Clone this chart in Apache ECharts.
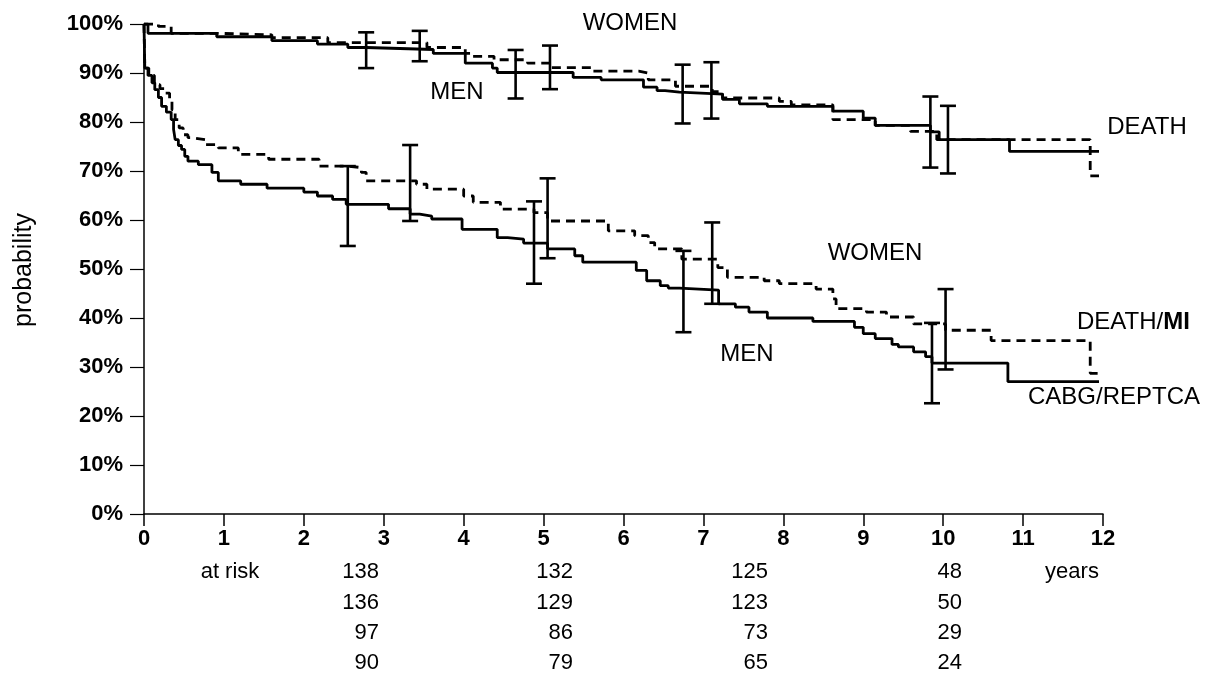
<!DOCTYPE html>
<html>
<head>
<meta charset="utf-8">
<script src="https://cdn.jsdelivr.net/npm/echarts@6/dist/echarts.min.js"></script>
<style>
html,body{margin:0;padding:0;background:#fff;}
#chart{width:1215px;height:675px;}
</style>
</head>
<body>
<div id="chart"></div>
<script>
// ---- data (years, probability %) ----
const deathMenT = [0, 0.05, 0.91, 1.6, 2.17, 2.55, 2.78, 3.62, 4.02, 4.36, 4.42, 5.37, 5.72, 6.25, 6.42, 6.52, 6.70, 7.24, 7.45, 7.80, 8.62, 9.0, 9.15, 9.84, 9.95, 10.83, 11.95];
const deathMenP = [100, 98.1, 97.4, 96.6, 95.9, 95.2, 94.8, 94.0, 92.0, 91.0, 90.1, 89.1, 88.6, 87.1, 86.4, 86.1, 85.7, 84.6, 83.7, 83.2, 82.2, 80.8, 79.3, 78.0, 76.4, 74.0, 74.0];

const deathWomenT = [0, 0.18, 0.34, 0.91, 1.6, 2.3, 3.54, 4.02, 4.08, 4.38, 4.80, 5.09, 5.6, 6.19, 6.31, 6.65, 7.11, 7.24, 7.95, 8.1, 8.62, 9.15, 9.59, 9.92, 11.84, 11.95];
const deathWomenP = [100, 99.5, 98.1, 97.8, 97.2, 96.2, 95.2, 94.0, 93.4, 92.7, 92.0, 91.1, 90.4, 90.0, 88.6, 87.3, 86.2, 84.9, 84.2, 83.5, 80.5, 79.3, 78.1, 76.4, 69.0, 69.0];

const eventMenT = [0, 0.01, 0.05, 0.1, 0.135, 0.18, 0.22, 0.28, 0.34, 0.37, 0.39, 0.43, 0.47, 0.51, 0.55, 0.68, 0.85, 0.93, 1.21, 1.54, 2.0, 2.17, 2.36, 2.53, 3.06, 3.33, 3.45, 3.60, 3.98, 4.42, 4.55, 4.75, 5.05, 5.39, 5.49, 6.16, 6.29, 6.46, 6.56, 6.70, 7.19, 7.40, 7.57, 7.80, 8.37, 8.89, 9.0, 9.15, 9.36, 9.44, 9.63, 9.78, 9.86, 10.81, 11.95];
const eventMenP = [100, 91.0, 89.5, 88.0, 86.6, 85.0, 83.2, 82.0, 80.5, 78.5, 76.4, 75.2, 74.4, 73.0, 72.0, 71.3, 69.7, 68.0, 67.3, 66.5, 65.7, 64.9, 64.2, 63.2, 62.3, 61.2, 60.8, 60.2, 58.1, 56.4, 56.1, 55.3, 54.1, 52.7, 51.4, 49.7, 47.6, 46.6, 46.1, 45.7, 42.9, 42.2, 41.2, 40.0, 39.3, 38.1, 36.8, 35.8, 34.6, 34.1, 33.1, 32.1, 30.8, 27.0, 27.0];

const eventWomenT = [0, 0.01, 0.06, 0.13, 0.2, 0.26, 0.32, 0.35, 0.39, 0.44, 0.49, 0.55, 0.6, 0.77, 0.93, 1.18, 1.56, 2.19, 2.55, 2.72, 2.78, 3.41, 3.54, 4.0, 4.12, 4.46, 4.88, 5.05, 5.81, 6.14, 6.31, 6.39, 6.73, 7.18, 7.30, 7.76, 7.95, 8.41, 8.62, 8.66, 9.04, 9.29, 9.63, 10.03, 10.6, 11.84, 11.95];
const eventWomenP = [100, 91.0, 89.5, 87.6, 86.8, 85.9, 84.6, 82.5, 80.5, 78.8, 77.4, 76.8, 76.4, 75.4, 74.7, 73.4, 72.4, 71.0, 70.7, 69.7, 68.0, 67.3, 66.3, 64.9, 63.6, 62.2, 61.5, 59.8, 57.8, 56.8, 55.4, 54.1, 52.0, 50.3, 48.3, 47.6, 47.0, 45.9, 43.9, 41.9, 41.2, 40.2, 38.8, 37.5, 35.4, 28.7, 28.7];

// confidence bars: time, low, high
const barT    = [2.78, 3.45, 4.65, 5.08, 6.74, 7.10, 9.84, 10.06, 2.55, 3.33, 4.88, 5.05, 6.75, 7.11, 9.86, 10.03];
const barLow  = [91.0, 92.4, 84.8, 86.7, 79.7, 80.7, 70.7, 69.5, 54.7, 59.8, 47.0, 52.2, 37.1, 42.9, 22.6, 29.5];
const barHigh = [98.3, 98.6, 94.7, 95.6, 91.7, 92.2, 85.2, 83.3, 71.0, 75.3, 63.8, 68.5, 53.7, 59.5, 39.0, 45.9];

const xTicks = [0,1,2,3,4,5,6,7,8,9,10,11,12];
const yTickLabels = ['0%','10%','20%','30%','40%','50%','60%','70%','80%','90%','100%'];

const atRiskLabel = 'at risk';
const atRiskRows = [
  ['138','132','125','48'],
  ['136','129','123','50'],
  ['97','86','73','29'],
  ['90','79','65','24']
];
const unitLabel = 'years';
const yTitle = 'probability';

// ---- chart ----
const FONT = '"Liberation Sans", Arial, Helvetica, sans-serif';
const chart = echarts.init(document.getElementById('chart'));

function pairs(t, p){ return t.map((v,i)=>[v, p[i]]); }

function curve(name, t, p, dashed){
  return {
    name, type:'line', step:'end', showSymbol:false, silent:true,
    data: pairs(t,p),
    lineStyle:{color:'#000', width:2.8, type: dashed ? [9,6] : 'solid'},
    z: 3
  };
}

const barData = barT.map((t,i)=>[t, barLow[i], barHigh[i]]);

const option = {
  animation:false,
  backgroundColor:'#fff',
  grid:{left:144, right:112, top:24, bottom:161, containLabel:false},
  xAxis:{
    type:'value', min:0, max:12, interval:1,
    axisLine:{show:true, onZero:false, lineStyle:{color:'#000', width:1.5}},
    axisTick:{show:true, length:12, lineStyle:{color:'#000', width:1.5}},
    axisLabel:{color:'#000', fontFamily:FONT, fontWeight:'bold', fontSize:22, margin:14,
      formatter:(v)=> String(xTicks[v] !== undefined ? xTicks[v] : v)},
    splitLine:{show:false}
  },
  yAxis:{
    type:'value', min:0, max:100, interval:10,
    axisLine:{show:true, lineStyle:{color:'#000', width:1.5}},
    axisTick:{show:true, length:14, lineStyle:{color:'#000', width:1.2}},
    axisLabel:{color:'#000', fontFamily:FONT, fontWeight:'bold', fontSize:22, margin:21,
      formatter:(v)=> yTickLabels[Math.round(v/10)]},
    splitLine:{show:false}
  },
  series:[
    curve('Death men', deathMenT, deathMenP, false),
    curve('Death women', deathWomenT, deathWomenP, true),
    curve('Event men', eventMenT, eventMenP, false),
    curve('Event women', eventWomenT, eventWomenP, true),
    {
      type:'custom', name:'CI', silent:true, z:4,
      data: barData,
      renderItem:(params, api)=>{
        const lo = api.coord([api.value(0), api.value(1)]);
        const hi = api.coord([api.value(0), api.value(2)]);
        const w = 8;
        const st = {stroke:'#000', lineWidth:2.6};
        return {type:'group', children:[
          {type:'line', shape:{x1:lo[0], y1:lo[1], x2:hi[0], y2:hi[1]}, style:st},
          {type:'line', shape:{x1:lo[0]-w, y1:lo[1], x2:lo[0]+w, y2:lo[1]}, style:st},
          {type:'line', shape:{x1:hi[0]-w, y1:hi[1], x2:hi[0]+w, y2:hi[1]}, style:st}
        ]};
      }
    }
  ],
  graphic:[]
};

const txt = (x, y, text, opts={}) => ({
  type:'text', x, y, silent:true,
  style:Object.assign({text, fill:'#000', font:`${opts.size||24}px ${FONT}`,
    textAlign:opts.align||'center', textVerticalAlign:'middle'}, opts.style||{}),
  rotation: opts.rotation || 0
});

const g = [];
g.push(txt(630, 23, 'WOMEN'));
g.push(txt(457, 92, 'MEN'));
g.push(txt(1147, 127, 'DEATH'));
g.push(txt(875, 253, 'WOMEN'));
g.push(txt(747, 354, 'MEN'));
g.push(txt(1114, 397, 'CABG/REPTCA'));
g.push({type:'text', x:1077, y:322, silent:true, style:{
  text:'DEATH/{b|MI}', fill:'#000', font:`24px ${FONT}`, textAlign:'left', textVerticalAlign:'middle',
  rich:{b:{fontWeight:'bold', fontSize:24, fontFamily:FONT, fill:'#000'}}
}});
g.push(txt(24, 270, yTitle, {rotation:Math.PI/2, size:25}));
g.push(txt(230, 572, atRiskLabel, {size:22}));
const colRight = [379, 573, 768, 962];
const rowY = [572, 603, 633, 663];
atRiskRows.forEach((row, r)=>{
  row.forEach((v, c)=>{
    g.push(txt(colRight[c], rowY[r], v, {size:22, align:'right'}));
  });
});
g.push(txt(1072, 572, unitLabel, {size:22}));
option.graphic = g;

chart.setOption(option);
</script>
</body>
</html>
